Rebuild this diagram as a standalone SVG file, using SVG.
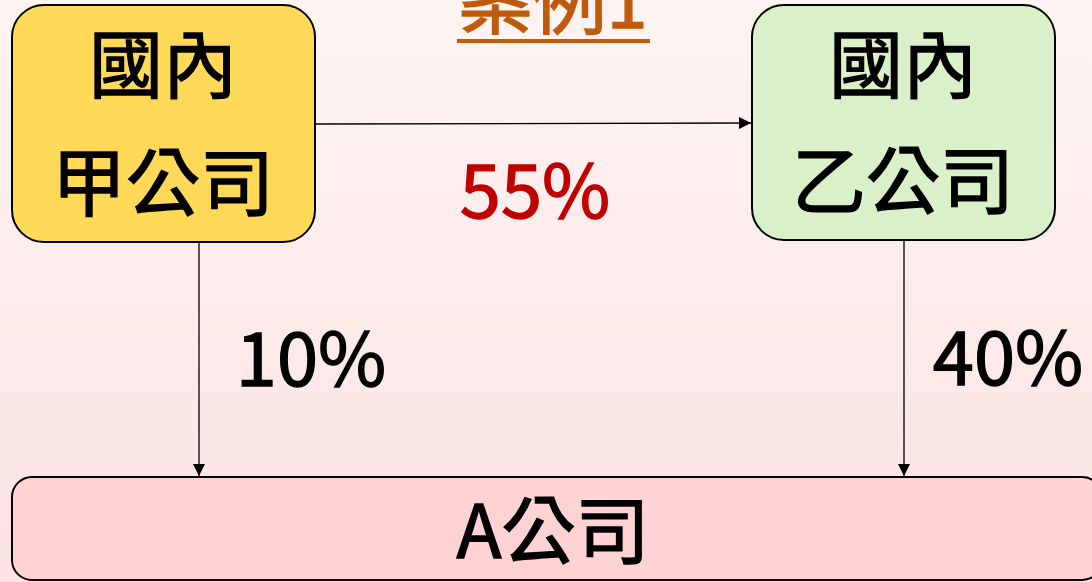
<svg xmlns="http://www.w3.org/2000/svg" width="1092" height="582" viewBox="0 0 1092 582">
<defs>
<linearGradient id="bg" x1="0" y1="0" x2="0" y2="1">
<stop offset="0" stop-color="#fdf4f2"/>
<stop offset="1" stop-color="#fce3e3"/>
</linearGradient>
<marker id="arr" markerWidth="12" markerHeight="12" refX="12" refY="6" orient="auto" markerUnits="userSpaceOnUse">
<path d="M0,0 L12,6 L0,12 z" fill="#000"/>
</marker>
<style>
.t{font-family:"Noto Sans CJK TC","Noto Sans CJK SC",sans-serif;font-size:74px;font-weight:normal;fill:#000;stroke:#000;stroke-width:1.4;text-anchor:middle}
.box{stroke:#000;stroke-width:2}
.c{stroke:#000;stroke-width:1.3;fill:none}
</style>
</defs>
<rect width="1092" height="582" fill="url(#bg)"/>
<g id="title">
<text x="553" y="28" class="t" style="fill:#c05a0c;stroke:#c05a0c">案例1</text>
<rect x="457" y="39" width="193" height="4" fill="#c05a0c"/>
</g>
<g id="connectors">
<line x1="316" y1="124" x2="751" y2="123" class="c" marker-end="url(#arr)"/>
<line x1="199" y1="243" x2="199" y2="476" class="c" marker-end="url(#arr)"/>
<line x1="904" y1="241" x2="904" y2="476" class="c" marker-end="url(#arr)"/>
</g>
<g id="nodeA">
<rect x="12" y="5" width="303" height="237" rx="32" fill="#ffd957" class="box"/>
<text x="163" y="92" class="t">國內</text>
<text x="163" y="210" class="t">甲公司</text>
</g>
<g id="nodeB">
<rect x="752" y="5" width="303" height="235" rx="32" fill="#d9f0c8" class="box"/>
<text x="903" y="92" class="t">國內</text>
<text x="903" y="208" class="t">乙公司</text>
</g>
<g id="nodeC">
<rect x="12" y="477" width="1090" height="103" rx="20" fill="#ffd3d3" class="box"/>
<text x="553" y="558" class="t">A公司</text>
</g>
<g id="labels">
<text x="535" y="218" class="t" style="fill:#c00000;stroke:#c00000">55%</text>
<text x="311" y="386" class="t">10%</text>
<text x="1008" y="385" class="t">40%</text>
</g>
</svg>
